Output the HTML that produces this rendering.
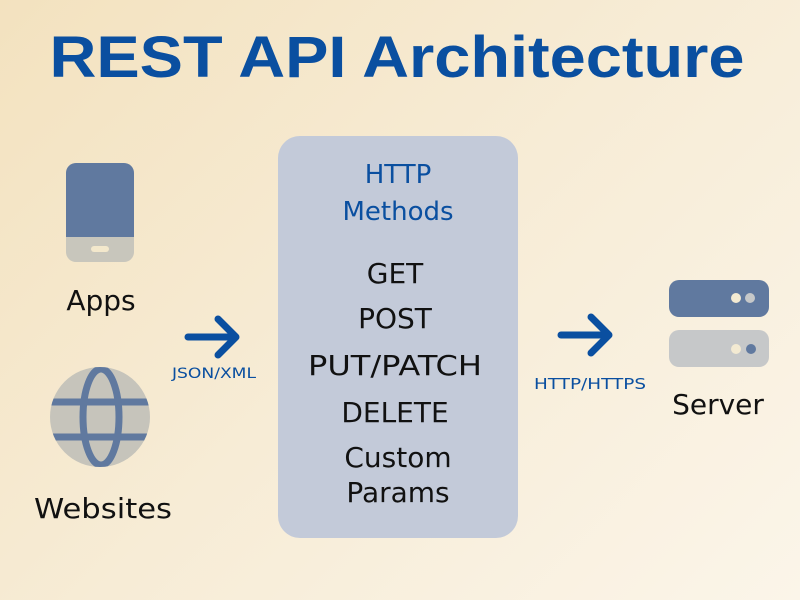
<!DOCTYPE html>
<html><head><meta charset="utf-8"><style>
html,body{margin:0;padding:0;}
body{width:800px;height:600px;overflow:hidden;background:linear-gradient(135deg,#f3e2bf 0%,#f7ecd6 50%,#fbf5e9 100%);}
svg{display:block}
text{font-family:"DejaVu Sans","Liberation Sans",sans-serif;}
</style></head><body>
<svg width="800" height="600" viewBox="0 0 800 600">
<text x="397" y="77" text-anchor="middle" font-size="58" font-weight="bold" fill="#0a4fa0" textLength="695" lengthAdjust="spacingAndGlyphs" style="font-family:'Liberation Sans',sans-serif">REST API Architecture</text>
<rect x="278" y="136" width="240" height="402" rx="22" fill="#c3cad9"/>
<text x="398" y="183" text-anchor="middle" font-size="26" fill="#0a4fa0">HTTP</text>
<text x="398" y="220" text-anchor="middle" font-size="26" fill="#0a4fa0">Methods</text>
<g font-size="28" fill="#111" text-anchor="middle">
<text x="395" y="283">GET</text>
<text x="395" y="328">POST</text>
<text x="395" y="375" textLength="174" lengthAdjust="spacingAndGlyphs">PUT/PATCH</text>
<text x="395" y="422">DELETE</text>
<text x="398" y="467">Custom</text>
<text x="398" y="502">Params</text>
</g>
<!-- phone -->
<rect x="66" y="163" width="68" height="99" rx="10" fill="#c8c6bc"/>
<path d="M76 163 H124 A10 10 0 0 1 134 173 V237 H66 V173 A10 10 0 0 1 76 163 Z" fill="#60799f"/>
<rect x="91" y="246" width="18" height="6" rx="3" fill="#f3e8cc"/>
<text x="101" y="310" text-anchor="middle" font-size="28" fill="#111">Apps</text>
<!-- globe -->
<circle cx="100" cy="417" r="50" fill="#c6c4bb"/>
<clipPath id="gc"><circle cx="100" cy="417" r="50"/></clipPath>
<g clip-path="url(#gc)" stroke="#60799f" stroke-width="7" fill="none">
<line x1="40" y1="402" x2="160" y2="402"/>
<line x1="40" y1="437" x2="160" y2="437"/>
<ellipse cx="101" cy="417" rx="18" ry="48"/>
</g>
<text x="103" y="518" text-anchor="middle" font-size="28" fill="#111" textLength="138" lengthAdjust="spacingAndGlyphs">Websites</text>
<!-- arrows -->
<g stroke="#0a4fa0" stroke-width="7" stroke-linecap="round" stroke-linejoin="round" fill="none">
<path d="M188 337 H234 M218 319 L236 337 L218 355"/>
<path d="M561 335 H607 M591 317 L609 335 L591 353"/>
</g>
<text x="214" y="378" text-anchor="middle" font-size="14" fill="#0a4fa0" textLength="84" lengthAdjust="spacingAndGlyphs">JSON/XML</text>
<text x="590" y="389" text-anchor="middle" font-size="15" fill="#0a4fa0" textLength="112" lengthAdjust="spacingAndGlyphs">HTTP/HTTPS</text>
<!-- server -->
<rect x="669" y="280" width="100" height="37" rx="10" fill="#60799f"/>
<rect x="669" y="330" width="100" height="37" rx="10" fill="#c6c8c9"/>
<circle cx="736" cy="298" r="5" fill="#f3ead2"/>
<circle cx="750" cy="298" r="5" fill="#c6c8c9"/>
<circle cx="736" cy="349" r="5" fill="#f3ead2"/>
<circle cx="751" cy="349" r="5" fill="#60799f"/>
<text x="718" y="414" text-anchor="middle" font-size="28" fill="#111">Server</text>
</svg>
</body></html>
